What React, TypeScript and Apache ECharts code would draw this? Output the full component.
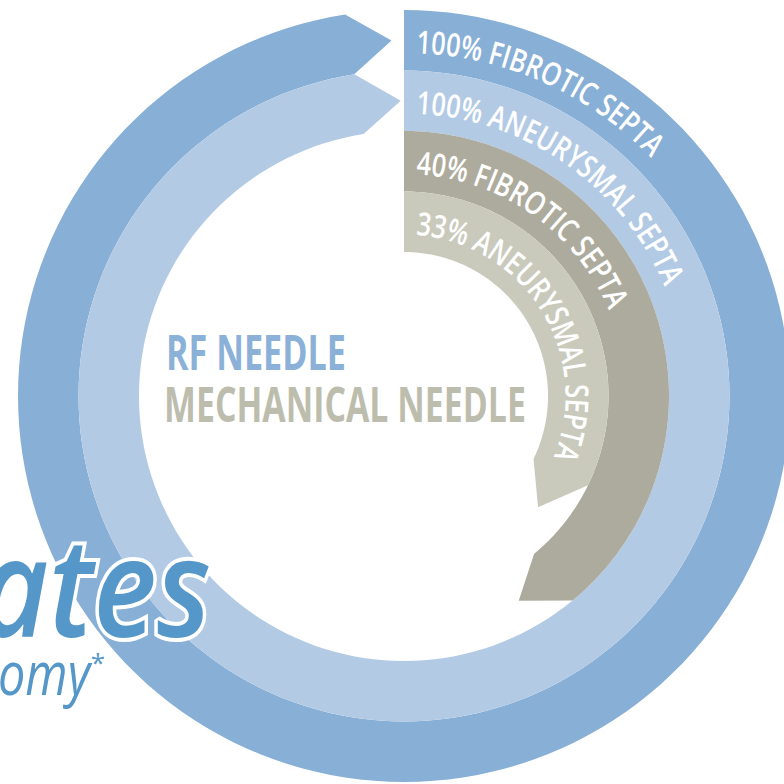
import React, { useEffect, useRef } from 'react';
import * as echarts from 'echarts';

// ---- data ----
const groups = ['RF NEEDLE', 'MECHANICAL NEEDLE'];
const septa = ['FIBROTIC SEPTA', 'ANEURYSMAL SEPTA', 'FIBROTIC SEPTA', 'ANEURYSMAL SEPTA'];
const ringGroup = [0, 0, 1, 1];
const percents = [100, 100, 40, 33];
const ANGLE_MAX = 102.5;

// ---- styles ----
const ringColors = ['#88AFD6', '#B3CAE5', '#ADAB9D', '#C9CABC'];
const groupColors = ['#8BB1D8', '#BDBDAE'];
const accent = '#5597C9';
const FONT = '"Open Sans", "Noto Sans", "DejaVu Sans", sans-serif';
const LABEL_FS = 32;
const LABEL_SX = 0.79;
const TIP = 42;

let ctx: CanvasRenderingContext2D | null = null;
function measure(text: string, font: string): number {
  if (!ctx) ctx = document.createElement('canvas').getContext('2d');
  if (!ctx) return text.length * 10;
  ctx.font = font;
  return ctx.measureText(text).width;
}

const renderItem = (params: any, api: any) => {
  const idx = api.value(0);
  const val = api.value(1);
  const start = api.coord([idx, 0]);
  const end = api.coord([idx, val]);
  const band = api.size([1, 0])[0];
  const cs = params.coordSys;
  const cx = cs.cx;
  const cy = cs.cy;
  const rMid = start[2];
  const rIn = rMid - band / 2;
  const rOut = rMid + band / 2;
  const a0 = start[3];
  const a1 = end[3];
  const pt = (r: number, a: number) => [cx + r * Math.cos(a), cy - r * Math.sin(a)];
  const pts: number[][] = [];
  const n = 160;
  for (let i = 0; i <= n; i++) pts.push(pt(rOut, a0 + ((a1 - a0) * i) / n));
  pts.push(pt(rMid, a1 - TIP / rMid));
  for (let i = n; i >= 0; i--) pts.push(pt(rIn, a0 + ((a1 - a0) * i) / n));
  const children: any[] = [
    { type: 'polygon', shape: { points: pts }, style: { fill: ringColors[idx] } },
  ];
  const text = `${percents[idx]}% ${septa[idx]}`;
  const font = `600 ${LABEL_FS}px ${FONT}`;
  const rb = rMid - LABEL_FS * 0.36;
  let s = 12;
  for (let i = 0; i < text.length; i++) {
    const ch = text[i];
    const w = (measure(text.slice(0, i + 1), font) - measure(text.slice(0, i), font)) * LABEL_SX;
    const a = a0 - (s + w / 2) / rb;
    const p = pt(rMid, a);
    if (ch !== ' ') {
      children.push({
        type: 'text',
        x: p[0],
        y: p[1],
        rotation: a - Math.PI / 2,
        scaleX: LABEL_SX,
        style: {
          text: ch,
          fill: '#ffffff',
          fontSize: LABEL_FS,
          fontFamily: FONT,
          fontWeight: 600,
          align: 'center',
          verticalAlign: 'middle',
        },
      });
    }
    s += w;
  }
  return { type: 'group', children };
};

function fitScale(text: string, font: string, target: number) {
  return target / measure(text, font);
}

export default function App() {
  const ref = useRef<HTMLDivElement>(null);
  useEffect(() => {
    if (!ref.current) return;
    const chart = echarts.init(ref.current, undefined, { renderer: 'svg' });
    const centerFont = `bold 49px ${FONT}`;
    const atesFont = `italic 600 138px ${FONT}`;
    const omyFont = `italic 60px ${FONT}`;
    const option: any = {
      animation: false,
      backgroundColor: '#ffffff',
      polar: { center: [404, 396], radius: [144, 386] },
      radiusAxis: {
        type: 'category',
        data: septa.map((s, i) => `${groups[ringGroup[i]]} ${s}`),
        inverse: true,
        axisLine: { show: false },
        axisTick: { show: false },
        axisLabel: { show: false },
        splitLine: { show: false },
      },
      angleAxis: {
        type: 'value',
        min: 0,
        max: ANGLE_MAX,
        startAngle: 90,
        clockwise: true,
        axisLine: { show: false },
        axisTick: { show: false },
        axisLabel: { show: false },
        splitLine: { show: false },
      },
      series: [
        {
          type: 'custom',
          coordinateSystem: 'polar',
          renderItem,
          encode: { radius: 0, angle: 1 },
          data: percents.map((v, i) => [i, v]),
          silent: true,
        },
      ],
      graphic: [
        {
          type: 'text', x: 166, y: 351, z: 100,
          scaleX: fitScale(groups[0], centerFont, 180),
          style: { text: groups[0], fill: groupColors[0], fontSize: 49, fontWeight: 'bold', fontFamily: FONT, align: 'left', verticalAlign: 'middle' },
        },
        {
          type: 'text', x: 164, y: 403, z: 100,
          scaleX: fitScale(groups[1], centerFont, 362),
          style: { text: groups[1], fill: groupColors[1], fontSize: 49, fontWeight: 'bold', fontFamily: FONT, align: 'left', verticalAlign: 'middle' },
        },
        {
          type: 'text', x: 211, y: 584, z: 100,
          scaleX: fitScale('ates', atesFont, 232),
          style: { text: 'ates', fill: '#ffffff', stroke: '#ffffff', lineWidth: 8, fontSize: 138, fontWeight: 600, fontStyle: 'italic', fontFamily: FONT, align: 'right', verticalAlign: 'middle' },
        },
        {
          type: 'text', x: 211, y: 584, z: 101,
          scaleX: fitScale('ates', atesFont, 232),
          style: { text: 'ates', fill: accent, fontSize: 138, fontWeight: 600, fontStyle: 'italic', fontFamily: FONT, align: 'right', verticalAlign: 'middle' },
        },
        {
          type: 'text', x: 90, y: 672, z: 100,
          scaleX: fitScale('omy', omyFont, 92),
          style: { text: 'omy', fill: accent, fontSize: 60, fontStyle: 'italic', fontFamily: FONT, align: 'right', verticalAlign: 'middle' },
        },
        {
          type: 'text', x: 98, y: 662, z: 100,
          style: { text: '*', fill: accent, fontSize: 26, fontFamily: FONT, align: 'center', verticalAlign: 'middle' },
        },
      ],
    };
    chart.setOption(option);
    return () => chart.dispose();
  }, []);
  return (
    <div
      ref={ref}
      style={{ position: 'fixed', left: 0, top: 0, width: 784, height: 784, background: '#fff' }}
    />
  );
}
